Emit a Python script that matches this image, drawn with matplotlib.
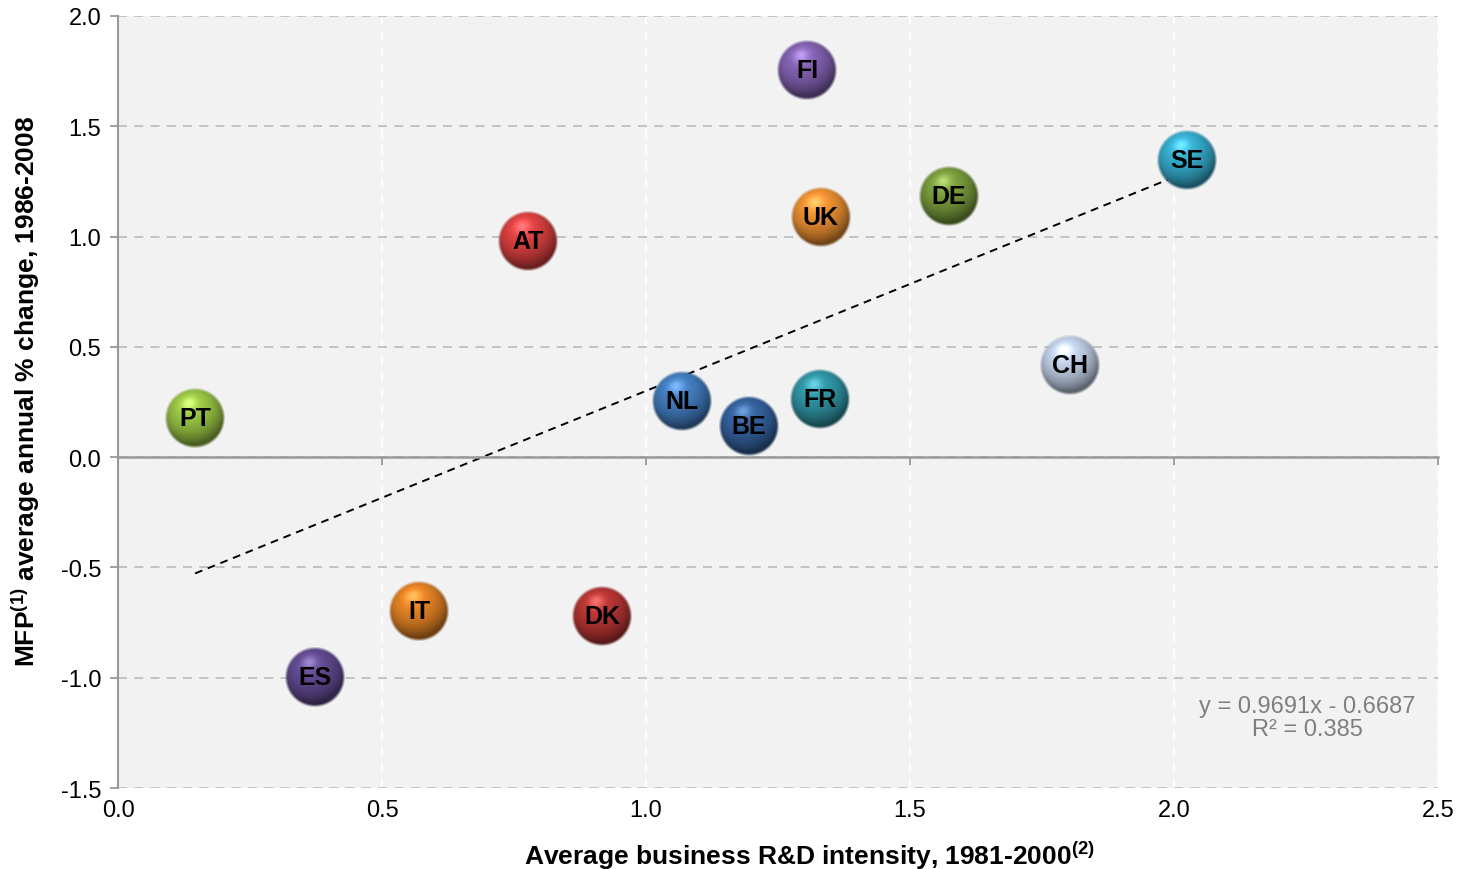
import numpy as np
import matplotlib
matplotlib.use('Agg')
import matplotlib.pyplot as plt
from matplotlib.offsetbox import OffsetImage, AnnotationBbox
from matplotlib.colors import to_rgb

plt.rcParams['font.family'] = ['Liberation Sans', 'DejaVu Sans']
plt.rcParams['mathtext.fontset'] = 'custom'
plt.rcParams['mathtext.rm'] = 'Liberation Sans'
plt.rcParams['mathtext.bf'] = 'Liberation Sans:bold'

# Data
countries = ['FI', 'SE', 'DE', 'UK', 'AT', 'CH', 'NL', 'FR', 'BE', 'PT', 'IT', 'DK', 'ES']
rd_intensity = [1.305, 2.025, 1.574, 1.331, 0.777, 1.803, 1.068, 1.330, 1.195, 0.146, 0.570, 0.917, 0.373]
mfp_growth = [1.755, 1.347, 1.184, 1.089, 0.980, 0.418, 0.255, 0.264, 0.141, 0.178, -0.697, -0.720, -0.996]
ball_colors = ['#7E5EAC', '#34A8C8', '#76983A', '#E58C30', '#D43E3E', '#BCCAE0',
               '#4078B8', '#2E90A0', '#325E98', '#94BE42', '#DC7E24', '#B23432', '#5E488C']

slope, intercept = 0.9691, -0.6687
eq_text = 'y = 0.9691x - 0.6687\nR² = 0.385'


def sphere(color, n=120):
    # softly shaded ball texture
    base = np.array(to_rgb(color))
    u = np.linspace(-1, 1, n)
    xx, yy = np.meshgrid(u, -u)
    r = np.sqrt(xx ** 2 + yy ** 2)
    z = np.sqrt(np.clip(1 - r ** 2, 0, 1))
    light = np.array([-0.2, 0.5, 0.85])
    light = light / np.linalg.norm(light)
    diff = np.clip(xx * light[0] + yy * light[1] + z * light[2], 0, 1)
    shade = 0.5 + 0.6 * diff
    rgb = base[None, None, :] * shade[..., None]
    spec = diff ** 30 * 0.22
    rgb = np.clip(rgb + spec[..., None], 0, 1)
    alpha = np.clip((1.02 - r) * 10, 0, 1)
    return np.dstack([rgb, alpha])


fig = plt.figure(figsize=(14.66, 8.70), dpi=100)
ax = fig.add_axes([0.0805, 0.0931, 0.9005, 0.8874])
ax.set_facecolor('#F2F2F2')
ax.set_xlim(0, 2.5)
ax.set_ylim(-1.5, 2.0)
ax.set_xticks(np.arange(0, 2.51, 0.5))
ax.set_yticks(np.arange(-1.5, 2.01, 0.5))

ax.yaxis.grid(True, color='#BFBFBF', linestyle=(0, (5, 4)), linewidth=1.3)
ax.xaxis.grid(True, color='white', linestyle=(0, (5, 4)), linewidth=1.3)
ax.set_axisbelow(True)

for s in ['top', 'right']:
    ax.spines[s].set_visible(False)
ax.spines['left'].set_color('#999999')
ax.spines['left'].set_linewidth(1.5)
ax.spines['bottom'].set_position(('data', 0))
ax.spines['bottom'].set_color('#999999')
ax.spines['bottom'].set_linewidth(1.8)
ax.tick_params(axis='x', direction='out', length=6, color='#999999', width=1.3,
               labelbottom=False)
ax.tick_params(axis='y', direction='out', length=6, color='#999999', width=1.3,
               labelsize=17, pad=6)
ax.set_yticklabels([f'{v:.1f}' for v in ax.get_yticks()])

sec = ax.secondary_xaxis('bottom')
sec.set_xticks(np.arange(0, 2.51, 0.5))
sec.set_xticklabels([f'{v:.1f}' for v in np.arange(0, 2.51, 0.5)])
sec.tick_params(length=0, labelsize=17, pad=8)
sec.spines['bottom'].set_visible(False)

# trendline
xs = np.array([min(rd_intensity), max(rd_intensity)])
ax.plot(xs, slope * xs + intercept, color='black', linestyle=(0, (4, 3)), linewidth=1.4, zorder=2)

for x, y, c, lab in zip(rd_intensity, mfp_growth, ball_colors, countries):
    img = OffsetImage(sphere(c), zoom=0.5, dpi_cor=False)
    ab = AnnotationBbox(img, (x, y), frameon=False, zorder=3)
    ax.add_artist(ab)
    ax.text(x, y, lab, ha='center', va='center', fontsize=18, fontweight='bold',
            color='black', zorder=4)

ax.text(2.252, -1.182, eq_text, ha='center', va='center', fontsize=17,
        color='#7F7F7F', linespacing=1.05)

sec.set_xlabel(r'Average business R&D intensity, 1981-2000$^{\mathbf{(2)}}$',
               fontsize=19, fontweight='bold', labelpad=12)
sec.xaxis.label.set_x(0.5235)
ax.set_ylabel(r'MFP$^{\mathbf{(1)}}$ average annual % change, 1986-2008',
              fontsize=19, fontweight='bold')
ax.yaxis.set_label_coords(-0.0576, 0.5155)

fig.savefig('out.png', dpi=100)
